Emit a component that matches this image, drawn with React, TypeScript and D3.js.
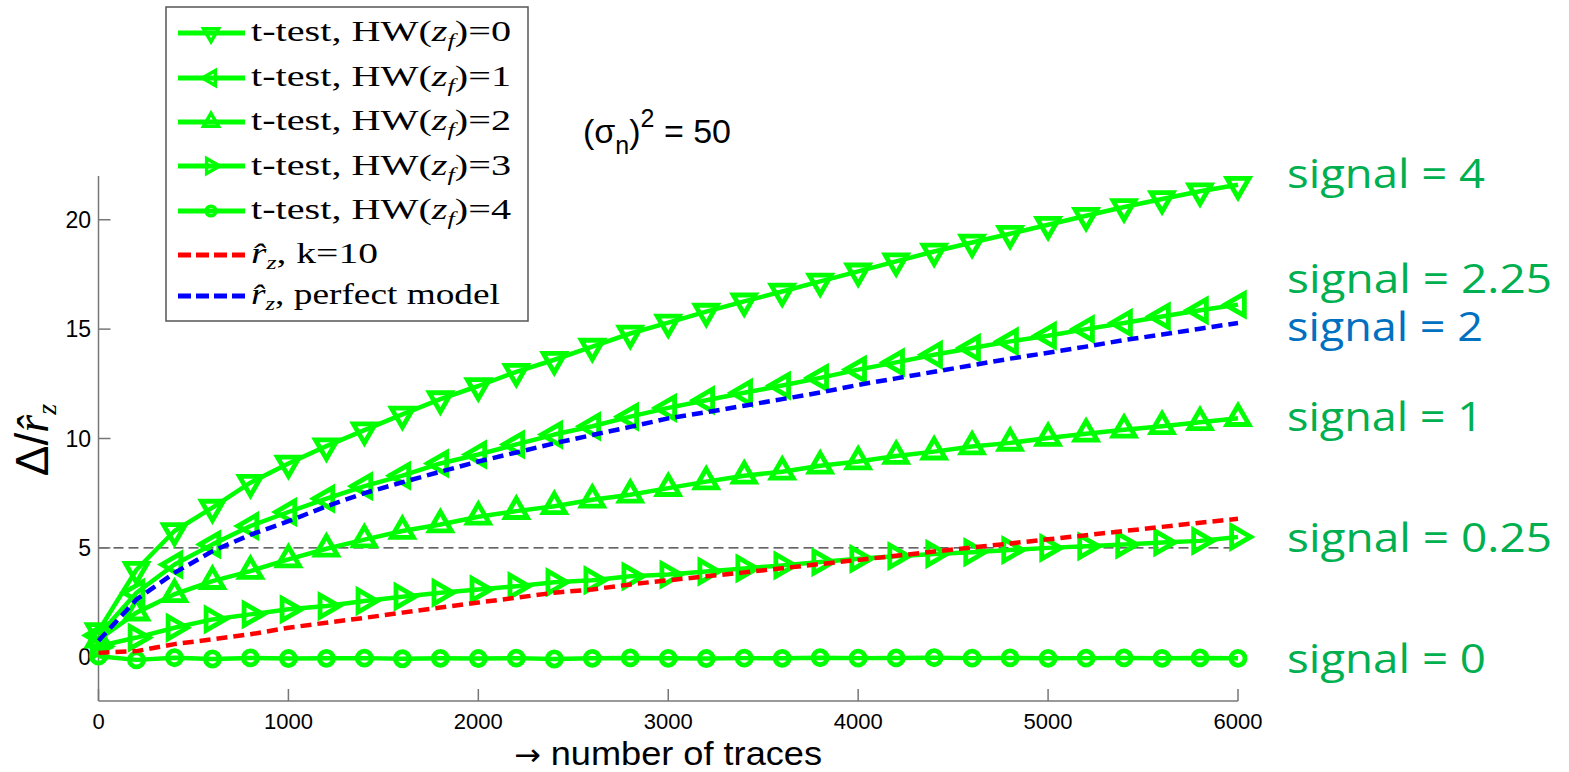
import React from "react";
import * as d3 from "d3";

const traces = [0, 200, 400, 600, 800, 1000, 1200, 1400, 1600, 1800, 2000, 2200, 2400, 2600, 2800, 3000, 3200, 3400, 3600, 3800, 4000, 4200, 4400, 4600, 4800, 5000, 5200, 5400, 5600, 5800, 6000];

const hw0 = [1.2, 4.0, 5.77, 6.84, 7.98, 8.86, 9.65, 10.38, 11.1, 11.8, 12.4, 13.05, 13.6, 14.2, 14.8, 15.3, 15.8, 16.27, 16.72, 17.18, 17.64, 18.1, 18.55, 18.96, 19.36, 19.77, 20.18, 20.58, 20.95, 21.3, 21.6];
const hw1 = [1.0, 2.95, 4.24, 5.16, 6.0, 6.64, 7.25, 7.82, 8.3, 8.86, 9.27, 9.73, 10.18, 10.56, 11.0, 11.4, 11.75, 12.09, 12.42, 12.77, 13.15, 13.48, 13.83, 14.14, 14.44, 14.7, 15.0, 15.28, 15.58, 15.86, 16.12];
const hw2 = [0.8, 2.04, 2.88, 3.48, 3.94, 4.47, 4.96, 5.38, 5.77, 6.07, 6.42, 6.68, 6.9, 7.2, 7.43, 7.73, 8.03, 8.3, 8.48, 8.75, 8.95, 9.2, 9.4, 9.63, 9.8, 10.02, 10.22, 10.4, 10.56, 10.74, 10.93];
const hw3 = [0.5, 0.9, 1.35, 1.73, 1.96, 2.19, 2.34, 2.57, 2.77, 2.95, 3.1, 3.25, 3.43, 3.52, 3.7, 3.78, 3.92, 4.06, 4.2, 4.35, 4.5, 4.62, 4.72, 4.8, 4.9, 5.0, 5.07, 5.15, 5.25, 5.32, 5.5];
const hw4 = [0.05, -0.12, -0.02, -0.08, -0.03, -0.06, -0.05, -0.04, -0.07, -0.05, -0.06, -0.04, -0.08, -0.05, -0.03, -0.05, -0.06, -0.04, -0.05, -0.02, -0.04, -0.03, -0.02, -0.04, -0.03, -0.05, -0.04, -0.03, -0.05, -0.03, -0.05];
const rzK10 = [0.2, 0.28, 0.6, 0.82, 1.05, 1.35, 1.58, 1.8, 2.04, 2.27, 2.5, 2.72, 2.95, 3.1, 3.33, 3.52, 3.7, 3.88, 4.07, 4.26, 4.45, 4.64, 4.83, 5.02, 5.2, 5.39, 5.58, 5.77, 5.96, 6.15, 6.33];
const rzPerfect = [0.75, 2.64, 3.86, 4.85, 5.6, 6.22, 6.9, 7.5, 8.0, 8.48, 8.95, 9.36, 9.78, 10.16, 10.53, 10.92, 11.2, 11.5, 11.8, 12.1, 12.45, 12.75, 13.05, 13.35, 13.65, 13.92, 14.2, 14.5, 14.75, 15.02, 15.28];

const xTicks = [0, 1000, 2000, 3000, 4000, 5000, 6000];
const yTicks = [0, 5, 10, 15, 20];
const threshold = 5;

const hwLabels = ["0", "1", "2", "3", "4"];
const markerKinds = ["down", "left", "up", "right", "circle"];

const signalLabels = ["signal = 4", "signal = 2.25", "signal = 2", "signal = 1", "signal = 0.25", "signal = 0"];
const signalColors = ["#00B050", "#00B050", "#0070C0", "#00B050", "#00B050", "#00B050"];
const signalBaselines = [188, 293, 341, 431, 552, 673];
const signalWidths = [198, 265, 196, 196, 265, 199];

const GREEN = "#00FF00";

function Marker({ kind, x, y, side, sw }: { kind: string; x: number; y: number; side: number; sw: number }) {
  if (kind === "circle") {
    return <circle cx={x} cy={y} r={side * 0.32} fill="none" stroke={GREEN} strokeWidth={sw} />;
  }
  const area = (Math.sqrt(3) / 4) * side * side;
  const p = d3.symbol().type(d3.symbolTriangle).size(area)() as string;
  const rot = kind === "up" ? 0 : kind === "down" ? 180 : kind === "left" ? -90 : 90;
  return (
    <path d={p} transform={`translate(${x},${y}) rotate(${rot})`} fill="none" stroke={GREEN} strokeWidth={sw} strokeLinejoin="miter" />
  );
}

export default function App() {
  const W = 1569, H = 772;
  const x = d3.scaleLinear().domain([0, 6000]).range([98.5, 1238]);
  const y = d3.scaleLinear().domain([-2, 22]).range([701, 176]);
  const line = d3.line<number>().x((_, i) => x(traces[i])).y((d) => y(d));

  const green = [hw0, hw1, hw2, hw3, hw4];
  const legendRows = [33, 78, 122, 166, 211, 255, 296];
  const legendBase = [41, 86, 130, 175, 219, 263, 304];

  return (
    <svg width={W} height={H} style={{ position: "absolute", left: 0, top: 0, background: "#fff" }}>
      <rect x={0} y={0} width={W} height={H} fill="#fff" />
      <line x1={x(0)} x2={x(6000)} y1={y(threshold)} y2={y(threshold)} stroke="#333" strokeWidth={1.2} strokeDasharray="10,5" />

      <line x1={x(0)} x2={x(0)} y1={176} y2={701} stroke="#777" strokeWidth={1.5} />
      <line x1={x(0)} x2={x(6000)} y1={701} y2={701} stroke="#777" strokeWidth={1.5} />
      {yTicks.map((t) => (
        <g key={"y" + t}>
          <line x1={x(0)} x2={x(0) + 12} y1={y(t)} y2={y(t)} stroke="#777" strokeWidth={1.5} />
          <text x={91} y={y(t) + 8} textAnchor="end" fontFamily="Liberation Sans, Arial, sans-serif" fontSize={23} fill="#000">{t}</text>
        </g>
      ))}
      {xTicks.map((t) => (
        <g key={"x" + t}>
          <line x1={x(t)} x2={x(t)} y1={701} y2={689} stroke="#777" strokeWidth={1.5} />
          <text x={x(t)} y={729} textAnchor="middle" fontFamily="Liberation Sans, Arial, sans-serif" fontSize={22} fill="#000">{t}</text>
        </g>
      ))}

      {green.map((s, k) => (
        <g key={"g" + k}>
          <path d={line(s) as string} fill="none" stroke={GREEN} strokeWidth={4.5} strokeLinejoin="round" />
          {s.map((v, i) => (
            <Marker key={i} kind={markerKinds[k]} x={x(traces[i])} y={y(v)} side={22} sw={4.8} />
          ))}
        </g>
      ))}
      <path d={line(rzK10) as string} fill="none" stroke="#FF0000" strokeWidth={4.5} strokeDasharray="11,6" />
      <path d={line(rzPerfect) as string} fill="none" stroke="#0000FF" strokeWidth={4.5} strokeDasharray="11,6" />

      <rect x={166} y={7} width={362} height={314} fill="#fff" stroke="#555" strokeWidth={1.5} />
      {hwLabels.map((h, k) => (
        <g key={"l" + k}>
          <line x1={178} x2={245} y1={legendRows[k]} y2={legendRows[k]} stroke={GREEN} strokeWidth={5} />
          <Marker kind={markerKinds[k]} x={211} y={legendRows[k]} side={15} sw={3.5} />
          <text x={251} y={legendBase[k]} fontFamily="Liberation Serif, serif" fontSize={29} fill="#000" textLength={260} lengthAdjust="spacingAndGlyphs">
            t-test, HW(<tspan fontStyle="italic">z</tspan><tspan fontStyle="italic" fontSize={19} dy={6}>f</tspan><tspan dy={-6}>)=</tspan>{h}
          </text>
        </g>
      ))}
      <line x1={178} x2={245} y1={legendRows[5]} y2={legendRows[5]} stroke="#FF0000" strokeWidth={5} strokeDasharray="13,5" />
      <text x={251} y={legendBase[5]} fontFamily="Liberation Serif, serif" fontSize={29} fill="#000" textLength={127} lengthAdjust="spacingAndGlyphs">
        <tspan fontStyle="italic">r̂</tspan><tspan fontStyle="italic" fontSize={19} dy={6}>z</tspan><tspan dy={-6}>, k=10</tspan>
      </text>
      <line x1={178} x2={245} y1={legendRows[6]} y2={legendRows[6]} stroke="#0000FF" strokeWidth={5} strokeDasharray="13,5" />
      <text x={251} y={legendBase[6]} fontFamily="Liberation Serif, serif" fontSize={29} fill="#000" textLength={249} lengthAdjust="spacingAndGlyphs">
        <tspan fontStyle="italic">r̂</tspan><tspan fontStyle="italic" fontSize={19} dy={6}>z</tspan><tspan dy={-6}>, perfect model</tspan>
      </text>

      <text x={583} y={143} fontFamily="Liberation Sans, Arial, sans-serif" fontSize={34} fill="#000">
        (σ<tspan fontSize={25} dy={11}>n</tspan><tspan dy={-11}>)</tspan><tspan fontSize={25} dy={-16}>2</tspan><tspan dy={16}> = 50</tspan>
      </text>

      <text x={668} y={765} textAnchor="middle" fontFamily="Liberation Sans, Arial, sans-serif" fontSize={34} fill="#000" textLength={308} lengthAdjust="spacingAndGlyphs">
        <tspan fontFamily="DejaVu Sans, sans-serif" fontSize={30}>→</tspan> number of traces
      </text>
      <text transform="translate(48,440) rotate(-90)" textAnchor="middle" fontFamily="Liberation Sans, Arial, sans-serif" fontSize={46} fill="#000">
        Δ/<tspan fontFamily="Liberation Serif, serif" fontStyle="italic">r̂</tspan><tspan fontFamily="Liberation Serif, serif" fontStyle="italic" fontSize={28} dy={8}>z</tspan>
      </text>

      {signalLabels.map((s, i) => (
        <text key={s} x={1287} y={signalBaselines[i]} fontFamily="Open Sans, Noto Sans, sans-serif" fontSize={41} fill={signalColors[i]} textLength={signalWidths[i]} lengthAdjust="spacingAndGlyphs">{s}</text>
      ))}
    </svg>
  );
}
